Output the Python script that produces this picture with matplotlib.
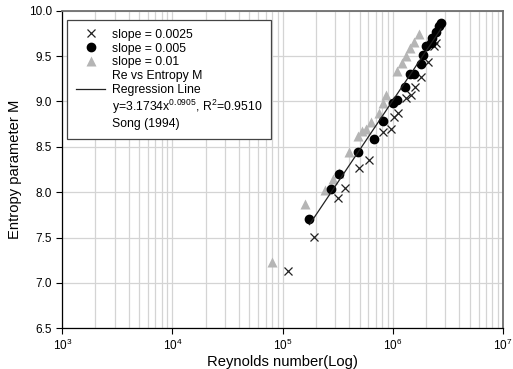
import numpy as np
import matplotlib.pyplot as plt
from matplotlib.lines import Line2D
from matplotlib.ticker import LogLocator, MultipleLocator, FormatStrFormatter

plt.rcParams['font.family'] = ['Liberation Sans', 'DejaVu Sans']
plt.rcParams['mathtext.fontset'] = 'custom'
plt.rcParams['mathtext.rm'] = 'Liberation Sans'
plt.rcParams['mathtext.default'] = 'regular'

# slope = 0.0025 (crosses)
re_0025 = [1.12e5, 1.92e5, 3.19e5, 3.72e5, 4.98e5, 6.1e5, 8.1e5, 9.6e5, 1.03e6, 1.12e6,
           1.32e6, 1.46e6, 1.59e6, 1.80e6, 2.1e6, 2.38e6, 2.46e6]
m_0025 = [7.13, 7.51, 7.94, 8.05, 8.27, 8.36, 8.66, 8.70, 8.83, 8.87,
          9.04, 9.07, 9.16, 9.27, 9.43, 9.61, 9.64]

# slope = 0.005 (filled circles)
re_005 = [1.75e5, 2.76e5, 3.24e5, 4.84e5, 6.76e5, 8.1e5, 9.95e5, 1.10e6, 1.28e6, 1.44e6,
          1.55e6, 1.80e6, 1.89e6, 2.02e6, 2.22e6, 2.29e6, 2.46e6, 2.63e6, 2.73e6]
m_005 = [7.70, 8.03, 8.20, 8.44, 8.59, 8.78, 8.98, 9.02, 9.16, 9.30,
         9.30, 9.41, 9.51, 9.61, 9.64, 9.70, 9.77, 9.83, 9.86]

# slope = 0.01 (grey triangles)
re_001 = [8.07e4, 1.61e5, 2.40e5, 2.85e5, 3.24e5, 4.04e5, 4.88e5, 5.2e5, 5.72e5, 6.35e5,
          7.55e5, 8.1e5, 8.67e5, 1.10e6, 1.21e6, 1.32e6, 1.44e6, 1.57e6, 1.74e6]
m_001 = [7.23, 7.87, 8.02, 8.14, 8.21, 8.44, 8.62, 8.67, 8.70, 8.77,
         8.87, 8.98, 9.07, 9.33, 9.42, 9.50, 9.59, 9.66, 9.74]

fig = plt.figure(figsize=(5.13, 3.69), dpi=100)
ax = fig.add_axes([0.1214, 0.1103, 0.8591, 0.8607])

ax.plot(re_0025, m_0025, 'x', color='#222222', ms=5.5, mew=0.9, zorder=3)
ax.plot(re_005, m_005, 'o', color='black', ms=6, zorder=4)
ax.plot(re_001, m_001, '^', color='#b5b5b5', ms=6.5, mec='none', zorder=3)

# regression line through the circle data (semi-log fit)
coef = np.polyfit(np.log10(re_005), m_005, 1)
xr = np.logspace(np.log10(min(re_005)), np.log10(max(re_005)), 50)
ax.plot(xr, np.polyval(coef, np.log10(xr)), color='#222222', lw=0.9, zorder=5)

ax.set_xscale('log')
ax.set_xlim(1e3, 1e7)
ax.set_ylim(6.5, 10.0)
ax.xaxis.set_major_locator(LogLocator(base=10, numticks=10))
ax.xaxis.set_minor_locator(LogLocator(base=10, subs=np.arange(2, 10), numticks=20))
ax.yaxis.set_major_locator(MultipleLocator(0.5))
ax.yaxis.set_major_formatter(FormatStrFormatter('%.1f'))

ax.grid(True, which='both', axis='x', color='#d4d4d4', lw=0.9)
ax.grid(True, which='major', axis='y', color='#d4d4d4', lw=0.9)
ax.set_axisbelow(True)
ax.tick_params(which='major', direction='out', length=4, width=0.8, labelsize=8.5, colors='black')
ax.tick_params(which='minor', length=0)
ax.tick_params(axis='x', pad=3)

for s in ['left', 'bottom']:
    ax.spines[s].set_color('black')
    ax.spines[s].set_linewidth(0.9)
for s in ['top', 'right']:
    ax.spines[s].set_color('#6e6e6e')
    ax.spines[s].set_linewidth(1.3)

ax.set_xlabel('Reynolds number(Log)', fontsize=10.6, labelpad=1)
ax.set_ylabel('Entropy parameter M', fontsize=10.6, labelpad=5)

blank = Line2D([], [], linestyle='none', marker='none')
handles = [
    Line2D([], [], linestyle='none', marker='x', color='#222222', ms=5.5, mew=0.9),
    Line2D([], [], linestyle='none', marker='o', color='black', ms=6),
    Line2D([], [], linestyle='none', marker='^', color='#b5b5b5', mec='none', ms=6.5),
    blank,
    Line2D([], [], color='#222222', lw=0.9),
    blank,
    blank,
]
labels = ['slope = 0.0025', 'slope = 0.005', 'slope = 0.01', 'Re vs Entropy M',
          'Regression Line', 'y=3.1734x$^{0.0905}$, R$^{2}$=0.9510', 'Song (1994)']
leg = ax.legend(handles, labels, loc='upper left', bbox_to_anchor=(0.0107, 0.972),
                fontsize=8.8, frameon=True, fancybox=False, framealpha=1,
                edgecolor='#444444', borderpad=0.75, labelspacing=0.15,
                handlelength=2.4, handletextpad=0.5, borderaxespad=0)
leg.get_frame().set_linewidth(0.9)

fig.savefig('out.png', dpi=100)
